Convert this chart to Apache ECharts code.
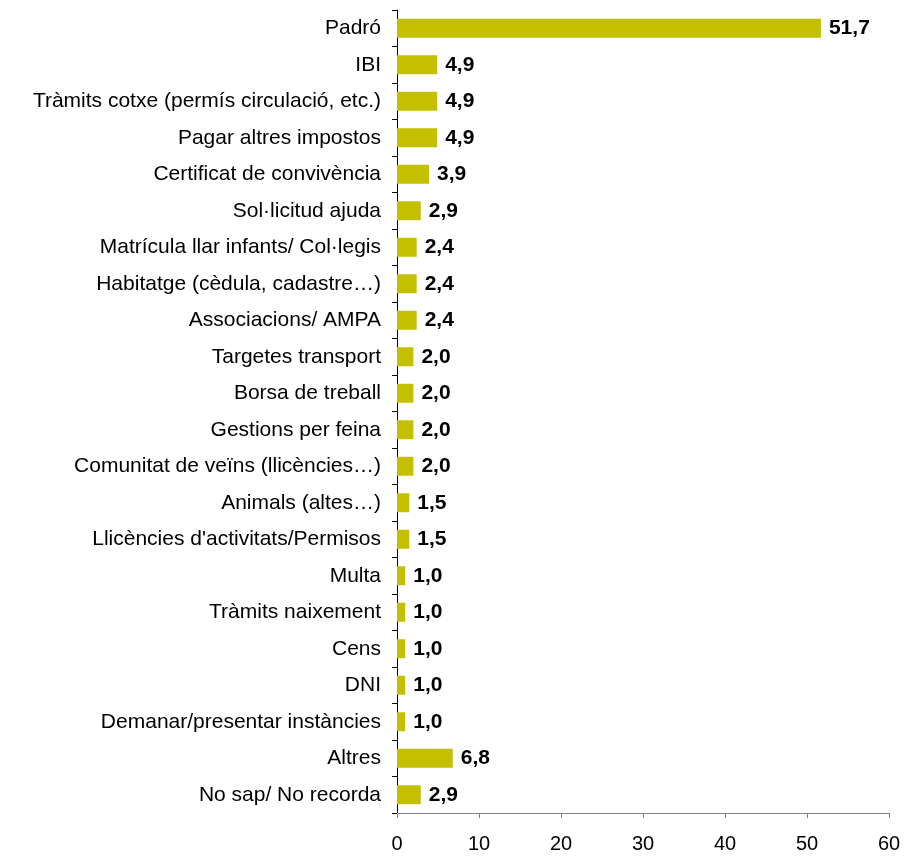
<!DOCTYPE html>
<html><head><meta charset="utf-8">
<script src="https://cdn.jsdelivr.net/npm/echarts@6/dist/echarts.min.js"></script>
<style>html,body{margin:0;padding:0;background:#fff}#c{width:914px;height:856px}</style>
</head><body><div id="c"></div>
<script>
const categories = ["Padró","IBI","Tràmits cotxe (permís circulació, etc.)","Pagar altres impostos","Certificat de convivència","Sol·licitud ajuda","Matrícula llar infants/ Col·legis","Habitatge (cèdula, cadastre…)","Associacions/ AMPA","Targetes transport","Borsa de treball","Gestions per feina","Comunitat de veïns (llicències…)","Animals (altes…)","Llicències d'activitats/Permisos","Multa","Tràmits naixement","Cens","DNI","Demanar/presentar instàncies","Altres","No sap/ No recorda"];
const values = [51.7,4.9,4.9,4.9,3.9,2.9,2.4,2.4,2.4,2.0,2.0,2.0,2.0,1.5,1.5,1.0,1.0,1.0,1.0,1.0,6.8,2.9];
const xTicks = [0,10,20,30,40,50,60];

const chart = echarts.init(document.getElementById('c'), null, {renderer:'canvas'});
const font = "'Liberation Sans', Arial, sans-serif";
chart.setOption({
  animation:false,
  grid:{left:397,right:25,top:10,bottom:43,containLabel:false},
  xAxis:{type:'value',min:xTicks[0],max:xTicks[xTicks.length-1],interval:10,
    axisLine:{show:true,lineStyle:{color:'#808080',width:1}},
    axisTick:{show:true,length:5,lineStyle:{color:'#808080'}},
    splitLine:{show:false},
    axisLabel:{color:'#000',fontFamily:font,fontSize:20,margin:21}},
  yAxis:{type:'category',data:categories,inverse:true,
    axisLine:{show:true,lineStyle:{color:'#000',width:1}},
    axisTick:{show:true,length:5,alignWithLabel:false,lineStyle:{color:'#000'}},
    axisLabel:{color:'#000',fontFamily:font,fontSize:21,margin:16}},
  series:[{type:'bar',data:values,barCategoryGap:'48%',
    itemStyle:{color:'#C4C000'},
    label:{show:true,position:'right',distance:8,fontFamily:font,fontSize:21,fontWeight:'bold',color:'#000',
      formatter:p=>p.value.toFixed(1).replace('.',',')}}]
});
</script></body></html>
